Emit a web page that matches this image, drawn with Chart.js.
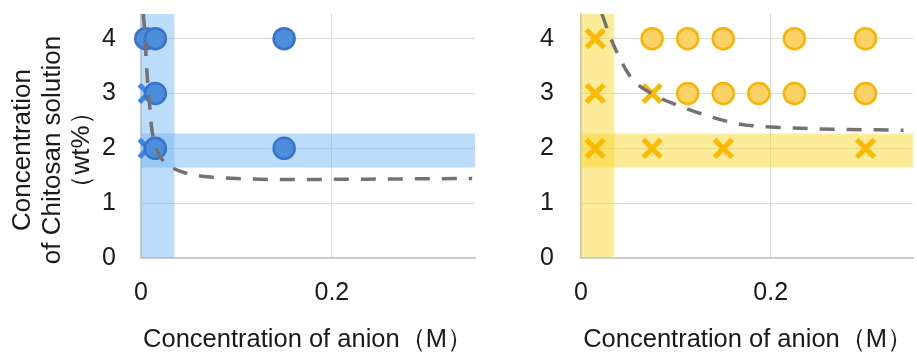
<!DOCTYPE html>
<html>
<head>
<meta charset="utf-8">
<script src="https://cdn.jsdelivr.net/npm/chart.js@4.4.1/dist/chart.umd.min.js"></script>
<style>
  body { margin: 0; background: #fff; }
  #wrap { position: relative; width: 917px; height: 356px; }
  canvas { position: absolute; top: 0; }
  #chartLeft { left: 0; }
  #chartRight { left: 460px; }
</style>
</head>
<body>
<div id="wrap">
  <canvas id="chartLeft" width="480" height="356" style="width:480px;height:356px"></canvas>
  <canvas id="chartRight" width="457" height="356" style="width:457px;height:356px"></canvas>
</div>
<script>
// axes
const xTicks = [0, 0.2];
const yTicks = [0, 1, 2, 3, 4];
const xRange = [0, 0.35];
const yRange = [0, 4.45];
const xTitle = 'Concentration of anion（M）';
const yTitleLines = ['Concentration', 'of Chitosan solution', '（wt%）'];

// shaded bands (same on both panels)
const bandX = [0, 0.035];
const bandY = [1.65, 2.27];

// left panel
const leftCircleX = [0.005, 0.015, 0.15, 0.015, 0.015, 0.15];
const leftCircleY = [4, 4, 4, 3, 2, 2];
const leftCrossX = [0.0075, 0.0075];
const leftCrossY = [3, 2];
const leftCurveX = [0.0025, 0.004, 0.0055, 0.007, 0.009, 0.011, 0.014, 0.02, 0.03, 0.045, 0.07, 0.1, 0.15, 0.25, 0.347];
const leftCurveY = [4.45, 4.1, 3.6, 3.2, 2.8, 2.4, 2.1, 1.85, 1.68, 1.56, 1.48, 1.45, 1.43, 1.44, 1.45];

// right panel
const rightCircleX = [0.075, 0.1125, 0.15, 0.225, 0.3, 0.1125, 0.15, 0.1875, 0.225, 0.3];
const rightCircleY = [4, 4, 4, 4, 4, 3, 3, 3, 3, 3];
const rightCrossX = [0.015, 0.015, 0.075, 0.015, 0.075, 0.15, 0.3];
const rightCrossY = [4, 3, 3, 2, 2, 2, 2];
const rightCurveX = [0.022, 0.033, 0.052, 0.08, 0.1045, 0.136, 0.168, 0.2, 0.24, 0.3, 0.34];
const rightCurveY = [4.45, 3.94, 3.31, 2.95, 2.77, 2.58, 2.44, 2.39, 2.36, 2.34, 2.33];

const FONT = "'Liberation Sans', Arial, sans-serif";
const TEXT = '#1a1a1a';

function pts(xs, ys) {
  return xs.map((x, i) => ({ x: x, y: ys[i] }));
}

// no extra room for edge labels, the layout padding decides the plot box
function noEdgePadding(axis) {
  axis.paddingTop = 0;
  axis.paddingBottom = 0;
  axis.paddingLeft = 0;
  axis.paddingRight = 0;
}

// draws the two translucent bands through the scales
const bandPlugin = {
  id: 'bands',
  beforeDatasetsDraw(chart, args, opts) {
    const { ctx, chartArea, scales } = chart;
    const x0 = scales.x.getPixelForValue(bandX[0]);
    const x1 = scales.x.getPixelForValue(bandX[1]);
    const y0 = scales.y.getPixelForValue(bandY[1]);
    const y1 = scales.y.getPixelForValue(bandY[0]);
    ctx.save();
    ctx.fillStyle = opts.color;
    ctx.fillRect(x0, chartArea.top, x1 - x0, chartArea.bottom - chartArea.top);
    ctx.fillRect(chartArea.left, y0, chartArea.right - chartArea.left, y1 - y0);
    ctx.restore();
  }
};

// multi-line rotated y title, a bit below the plot centre like the original
const yTitlePlugin = {
  id: 'yTitle',
  afterDraw(chart, args, opts) {
    if (!opts.show) return;
    const { ctx, chartArea } = chart;
    ctx.save();
    ctx.font = `26px ${FONT}`;
    ctx.fillStyle = TEXT;
    ctx.textAlign = 'center';
    ctx.textBaseline = 'middle';
    ctx.translate(0, (chartArea.top + chartArea.bottom) / 2 + 14);
    ctx.rotate(-Math.PI / 2);
    yTitleLines.forEach((line, i) => ctx.fillText(line, 0, 23 + i * 29.5));
    ctx.restore();
  }
};

function makeChart(canvas, cfg) {
  return new Chart(canvas, {
    type: 'scatter',
    data: {
      datasets: [
        {
          type: 'line',
          data: pts(cfg.curveX, cfg.curveY),
          borderColor: '#767171',
          borderWidth: 3.5,
          borderDash: [15, 12],
          pointRadius: 0,
          fill: false,
          cubicInterpolationMode: 'monotone',
          order: 0
        },
        {
          data: pts(cfg.circleX, cfg.circleY),
          pointStyle: 'circle',
          pointRadius: 10.5,
          pointBorderWidth: 2.5,
          backgroundColor: cfg.circleFill,
          borderColor: cfg.circleLine,
          clip: false,
          order: 1
        },
        {
          data: pts(cfg.crossX, cfg.crossY),
          pointStyle: 'crossRot',
          pointRadius: 12.5,
          pointBorderWidth: 5,
          borderColor: cfg.crossColor,
          backgroundColor: cfg.crossColor,
          clip: false,
          order: 2
        }
      ]
    },
    options: {
      responsive: false,
      animation: false,
      events: [],
      layout: { autoPadding: false, padding: { left: 0, right: cfg.padRight, top: 14, bottom: 0 } },
      plugins: {
        legend: { display: false },
        tooltip: { enabled: false },
        bands: { color: cfg.bandColor },
        yTitle: { show: cfg.showYTitle }
      },
      scales: {
        x: {
          type: 'linear',
          min: xRange[0],
          max: xRange[1],
          afterBuildTicks: axis => { axis.ticks = xTicks.map(v => ({ value: v })); },
          afterFit: axis => { axis.height = 98; noEdgePadding(axis); },
          grid: { color: '#d9d9d9', lineWidth: 1, drawTicks: false },
          border: { color: '#c8c8c8', width: 1.5 },
          ticks: { padding: 20, color: TEXT, font: { family: FONT, size: 25 }, callback: v => String(v) },
          title: {
            display: true,
            text: xTitle,
            align: cfg.titleAlign,
            color: TEXT,
            font: { family: FONT, size: 25.5 },
            padding: { top: 0, bottom: 1 }
          }
        },
        y: {
          type: 'linear',
          min: yRange[0],
          max: yRange[1],
          afterBuildTicks: axis => { axis.ticks = yTicks.map(v => ({ value: v })); },
          afterFit: axis => { axis.width = cfg.yWidth; noEdgePadding(axis); },
          grid: { color: '#d9d9d9', lineWidth: 1, drawTicks: false },
          border: { color: '#c8c8c8', width: 1.5 },
          ticks: { padding: cfg.tickPad, color: TEXT, font: { family: FONT, size: 25 } }
        }
      }
    },
    plugins: [bandPlugin, yTitlePlugin]
  });
}

makeChart(document.getElementById('chartLeft'), {
  curveX: leftCurveX, curveY: leftCurveY,
  circleX: leftCircleX, circleY: leftCircleY,
  crossX: leftCrossX, crossY: leftCrossY,
  circleFill: '#4b8fdb', circleLine: '#3b70cf', crossColor: '#3f86e0',
  bandColor: 'rgba(120, 185, 245, 0.5)',
  yWidth: 141, padRight: 5, tickPad: 25, titleAlign: 'center', showYTitle: true
});

makeChart(document.getElementById('chartRight'), {
  curveX: rightCurveX, curveY: rightCurveY,
  circleX: rightCircleX, circleY: rightCircleY,
  crossX: rightCrossX, crossY: rightCrossY,
  circleFill: '#fbd267', circleLine: '#f9b300', crossColor: '#fbba00',
  bandColor: 'rgba(250, 215, 50, 0.5)',
  yWidth: 121, padRight: 4, tickPad: 27, titleAlign: 'end', showYTitle: false
});
</script>
</body>
</html>
